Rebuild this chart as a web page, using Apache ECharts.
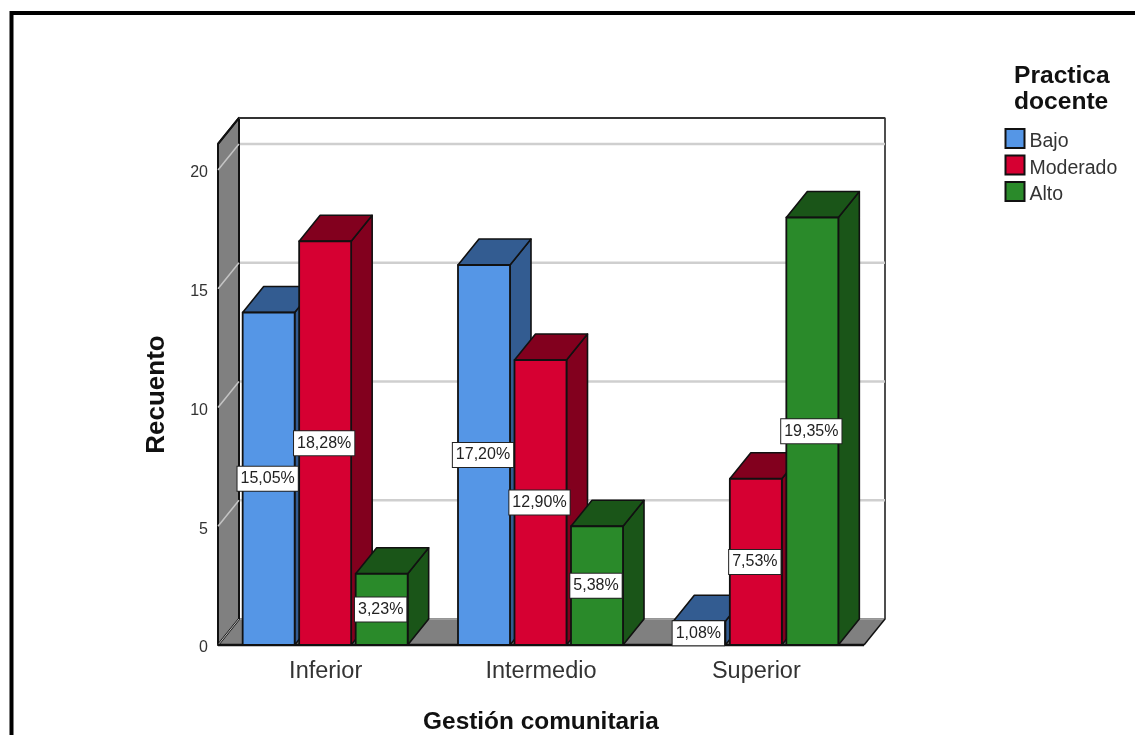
<!DOCTYPE html>
<html><head><meta charset="utf-8">
<style>html,body{margin:0;padding:0;background:#fff}#c{width:1135px;height:735px}</style>
<script src="https://cdn.jsdelivr.net/npm/echarts@6/dist/echarts.min.js"></script>
</head><body><div id="c"></div>
<script>
const categories = ['Inferior', 'Intermedio', 'Superior'];
const seriesNames = ['Bajo', 'Moderado', 'Alto'];
const bajo = [14, 16, 1];
const moderado = [17, 12, 7];
const alto = [3, 5, 18];
const bajoLabels = ['15,05%', '17,20%', '1,08%'];
const moderadoLabels = ['18,28%', '12,90%', '7,53%'];
const altoLabels = ['3,23%', '5,38%', '19,35%'];
const yTicks = [5, 10, 15, 20];
const faceColors = ['#5596E6', '#D60032', '#2A8A2A'];
const darkColors = ['#335C91', '#82001E', '#1A5518'];

const DX = 21, DY = -26, WALL_TOP = 21.1;
const FONT = '"Liberation Sans", Arial, sans-serif';
const INK = '#111';

function poly(points, fill, stroke, lw, z2) {
  return { type: 'polygon', shape: { points }, z2: z2 || 0,
    style: { fill, stroke: stroke || 'none', lineWidth: lw || 0, lineJoin: 'round' } };
}
function line(x1, y1, x2, y2, stroke, lw, z2) {
  return { type: 'line', shape: { x1, y1, x2, y2 }, z2: z2 || 0, style: { stroke, lineWidth: lw } };
}

function renderWalls(params, api) {
  const band = api.size([1, 0])[0];
  const o = api.coord([0, 0]);
  const y0 = o[1];
  const x0 = o[0] - band / 2;
  const x1 = x0 + band * categories.length;
  const yT = api.coord([0, WALL_TOP])[1];
  return { type: 'group', children: [
    poly([[x0 + DX, yT + DY], [x1 + DX, yT + DY], [x1 + DX, y0 + DY], [x0 + DX, y0 + DY]], '#fff', '#444', 1.5, 0),
    poly([[x0, y0], [x0 + DX, y0 + DY], [x1 + DX, y0 + DY], [x1, y0]], '#808080', INK, 0, 1),
    line(x0 + DX, y0 + DY, x1 + DX, y0 + DY, '#bbb', 1, 2),
    line(x1 + DX, yT + DY, x1 + DX, y0 + DY, '#444', 1.5, 2),
    line(x1, y0, x1 + DX, y0 + DY, '#111', 1.5, 2)
  ] };
}
function renderGrid(params, api) {
  const band = api.size([1, 0])[0];
  const p = api.coord([0, api.value(0)]);
  const x0 = p[0] - band / 2;
  const x1 = x0 + band * categories.length;
  return { type: 'group', children: [
    line(x0 + DX, p[1] + DY, x1 + DX, p[1] + DY, '#cfcfcf', 2.5, 3)
  ] };
}
function renderLeftWall(params, api) {
  const band = api.size([1, 0])[0];
  const o = api.coord([0, 0]);
  const x0 = o[0] - band / 2, y0 = o[1];
  const yT = api.coord([0, WALL_TOP])[1];
  const x1 = x0 + band * categories.length;
  const kids = [
    poly([[x0, yT], [x0 + DX, yT + DY], [x0 + DX, y0 + DY], [x0, y0]], '#808080', INK, 2, 4),
    line(x0, y0, x0 + DX, y0 + DY, '#bdbdbd', 1, 5),
    line(x0, y0, x1, y0, INK, 2.5, 6),
    line(x0, yT, x0 + DX, yT + DY, INK, 2, 6),
    line(x0 + DX, yT + DY, x1 + DX, yT + DY, '#333', 2, 6)
  ];
  yTicks.forEach(t => {
    const y = api.coord([0, t])[1];
    kids.push(line(x0, y, x0 + DX, y + DY, '#c4c4c4', 1.5, 5));
  });
  return { type: 'group', children: kids };
}
function makeBar(sIdx, labels) {
  return function (params, api) {
    const band = api.size([1, 0])[0];
    const cat = api.value(0), val = api.value(1);
    const base = api.coord([cat, 0]);
    const top = api.coord([cat, val]);
    const w = band * 0.2415, step = band * 0.2624;
    const cx = base[0] - 0.5 + (sIdx - 1) * step;
    const l = cx - w / 2, r = cx + w / 2, b = base[1], t = top[1];
    const face = faceColors[sIdx], dark = darkColors[sIdx];
    return { type: 'group', children: [
      poly([[r, t], [r + DX, t + DY], [r + DX, b + DY], [r, b]], dark, INK, 1.6, 10),
      poly([[l, t], [l + DX, t + DY], [r + DX, t + DY], [r, t]], dark, INK, 1.6, 10),
      poly([[l, t], [r, t], [r, b], [l, b]], face, INK, 1.8, 10),
      { type: 'text', z2: 100, x: cx - 1, y: (t + b) / 2,
        style: { text: labels[cat], fill: '#222', font: '16px ' + FONT, align: 'center', verticalAlign: 'middle',
          backgroundColor: '#fff', borderColor: '#222', borderWidth: 1, padding: [4, 3, 4, 3] } }
    ] };
  };
}

function barData(vals) { return vals.map((v, i) => [i, v]); }
const chart = echarts.init(document.getElementById('c'), null, { renderer: 'canvas' });
chart.setOption({
  animation: false,
  backgroundColor: '#fff',
  grid: { left: 218, right: 271, top: 170, bottom: 90, outerBoundsMode: 'none' },
  legend: { orient: 'vertical', left: 1004.5, top: 128, padding: 0, itemWidth: 19, itemHeight: 19, itemGap: 2.5,
    icon: 'rect', data: seriesNames, selectedMode: false,
    formatter: '{t|{name}}',
    textStyle: { fontFamily: FONT, fontSize: 19.5, color: '#333',
      rich: { t: { fontFamily: FONT, fontSize: 19.5, color: '#333', lineHeight: 14, height: 14, padding: [7, 0, 0, 0] } } } },
  xAxis: { type: 'category', data: categories, axisLine: { show: false }, axisTick: { show: false },
    axisLabel: { fontFamily: FONT, fontSize: 23.5, color: '#333', margin: 15 },
    name: 'Gestión comunitaria', nameLocation: 'middle', nameGap: 65,
    nameTextStyle: { fontFamily: FONT, fontSize: 24.4, fontWeight: 'bold', color: '#111' } },
  yAxis: { type: 'value', min: 0, max: 20, interval: 5, splitLine: { show: false },
    axisLine: { show: false }, axisTick: { show: false },
    axisLabel: { fontFamily: FONT, fontSize: 16, color: '#333', margin: 10, formatter: '{t|{value}}',
      rich: { t: { fontFamily: FONT, fontSize: 16, color: '#333', padding: [6, 0, 0, 0] } } },
    name: 'Recuento', nameLocation: 'middle', nameGap: 48, nameRotate: 90,
    nameTextStyle: { fontFamily: FONT, fontSize: 26, fontWeight: 'bold', color: '#111', padding: [0, 0, 0, 26] } },
  graphic: [
    { type: 'text', left: 1014, top: 63, z: 10, style: { text: 'Practica\ndocente', font: 'bold 24.6px ' + FONT, fill: '#111', align: 'center', lineHeight: 26 } },
    { type: 'polyline', z: 10, shape: { points: [[11.5, 735], [11.5, 13], [1135, 13]] }, style: { stroke: '#000', lineWidth: 4, fill: 'none' } }
  ],
  series: [
    { type: 'custom', name: 'walls', renderItem: renderWalls, data: [[0, 0]], silent: true, z: 1 },
    { type: 'custom', name: 'gridlines', renderItem: renderGrid, data: yTicks.map(t => [t]), silent: true, z: 1 },
    { type: 'custom', name: 'leftwall', renderItem: renderLeftWall, data: [[0, 0]], silent: true, z: 1 },
    { type: 'custom', name: 'Bajo', renderItem: makeBar(0, bajoLabels), data: barData(bajo), encode: { x: 0, y: 1 }, z: 2,
      itemStyle: { color: faceColors[0], borderColor: INK, borderWidth: 1.5 } },
    { type: 'custom', name: 'Moderado', renderItem: makeBar(1, moderadoLabels), data: barData(moderado), encode: { x: 0, y: 1 }, z: 2,
      itemStyle: { color: faceColors[1], borderColor: INK, borderWidth: 1.5 } },
    { type: 'custom', name: 'Alto', renderItem: makeBar(2, altoLabels), data: barData(alto), encode: { x: 0, y: 1 }, z: 2,
      itemStyle: { color: faceColors[2], borderColor: INK, borderWidth: 1.5 } }
  ]
});
</script></body></html>
